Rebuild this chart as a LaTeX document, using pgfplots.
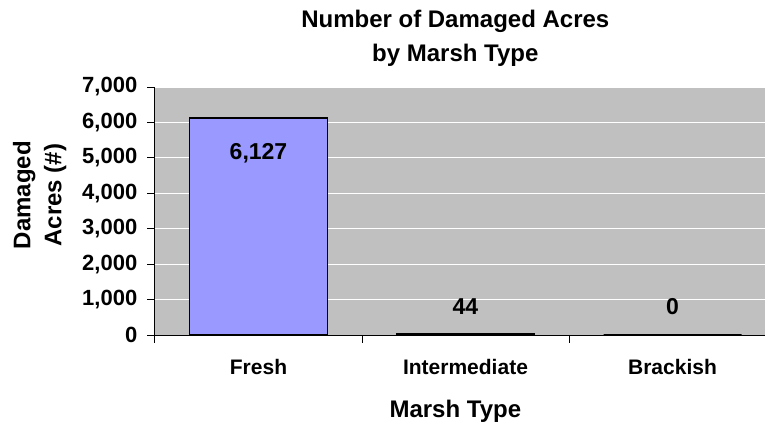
\documentclass[border=0pt]{standalone}
\usepackage{fontspec}
\setmainfont{Liberation Sans}
\usepackage{pgfplots}
\pgfplotsset{compat=1.18}
\definecolor{barblue}{HTML}{9999FF}
\definecolor{plotgray}{HTML}{C0C0C0}
\begin{document}
\begin{tikzpicture}
\begin{axis}[
  scale only axis,
  width=621pt, height=248pt,
  xmin=-0.5, xmax=2.5,
  ymin=0, ymax=7000,
  axis x line=bottom, axis y line=left,
  axis line style={-, black, line width=1pt},
  axis background/.style={fill=plotgray},
  xtick={-0.5,0.5,1.5,2.5},
  x tick label as interval,
  xticklabels={Fresh,Intermediate,Brackish},
  ytick={0,1000,2000,3000,4000,5000,6000,7000},
  scaled y ticks=false,
  /pgf/number format/1000 sep={,},
  /pgf/number format/assume math mode=true,
  tick align=outside,
  major tick length=7.5pt,
  tick style={black, line width=1pt},
  ymajorgrids,
  grid style={white, line width=1pt},
  yticklabel style={font=\fontsize{22}{26}\selectfont\bfseries, anchor=east, inner sep=0pt, xshift=-10pt},
  xticklabel style={font=\fontsize{21}{26}\selectfont\bfseries, anchor=base, inner sep=0pt, yshift=-32pt},
  title={Number of Damaged Acres\\by Marsh Type},
  title style={font=\fontsize{24}{34}\selectfont\bfseries, align=center, at={(axis description cs:0.4836,1)}, anchor=south, inner sep=0pt, yshift=14pt},
  xlabel={Marsh Type},
  xlabel style={font=\fontsize{24}{28}\selectfont\bfseries, at={(axis description cs:0.4836,0)}, anchor=base, inner sep=0pt, yshift=-82pt},
  ylabel={Damaged\\Acres (\#)},
  ylabel style={font=\fontsize{24}{31}\selectfont\bfseries, align=center, at={(axis description cs:-0.1857,0.5645)}, anchor=center, rotate=0, inner sep=0pt},
  ybar, bar width=138pt,
  clip=false,
]
\addplot[fill=barblue, draw=black, line width=1.2pt] coordinates {(0,6127) (1,44) (2,0)};
\coordinate (bl) at (rel axis cs:0,0);
\node[font=\fontsize{23}{26}\selectfont\bfseries, anchor=base, inner sep=0pt] at (axis cs:0,4940) {6,127};
\node[font=\fontsize{23}{26}\selectfont\bfseries, anchor=base, inner sep=0pt] at (axis cs:1,565) {44};
\node[font=\fontsize{23}{26}\selectfont\bfseries, anchor=base, inner sep=0pt] at (axis cs:2,565) {0};
\end{axis}
\pgfresetboundingbox
\path (bl) ++(-155pt,-90pt) rectangle ++(765pt,425pt);
\end{tikzpicture}
\end{document}
